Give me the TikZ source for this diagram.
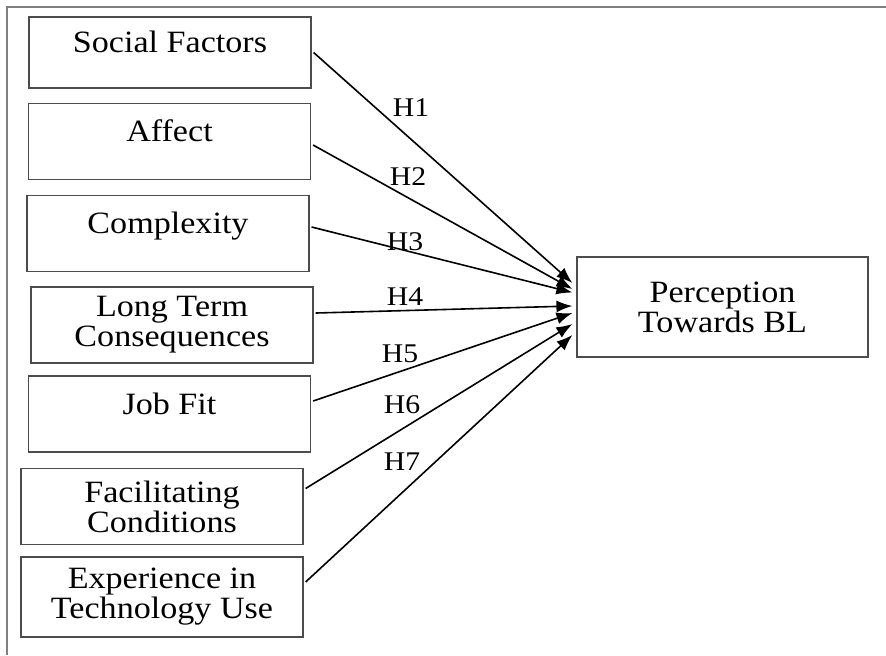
\documentclass[tikz,border=0pt]{standalone}
\usepackage{fontspec}
\setmainfont{Liberation Serif}[FakeStretch=1.1]
\usetikzlibrary{arrows.meta}

\begin{document}
\begin{tikzpicture}[x=0.5pt,y=-0.5pt,
        factor/.style={draw=black!70,line width=0.6pt,minimum width=141pt,minimum height=38pt,
            inner sep=0pt,align=center,font=\fontsize{15.5}{15}\selectfont},
        oneline/.style={text height=10pt,text depth=10pt},
        hyp/.style={-{Latex[length=8pt,width=6pt]},line width=0.8pt},
        hlabel/.style={font=\fontsize{13.5}{14}\selectfont}]
        \useasboundingbox (0,0) rectangle (886,655);
        \draw[black!50,line width=1pt] (886,7) -- (7,7) -- (7,655);

        % independent factors
        \node[factor,oneline,minimum height=35.5pt] (sf) at (170,52.5) {Social Factors};
        \node[factor,oneline] (aff) at (169.5,141.5) {Affect};
        \node[factor,oneline] (cpx) at (168,233.5) {Complexity};
        \node[factor] (ltc) at (172,325) {Long Term\\Consequences};
        \node[factor,oneline] (jf) at (169.5,414) {Job Fit};
        \node[factor] (fc) at (162,506.5) {Facilitating\\Conditions};
        \node[factor,minimum height=40pt] (etu) at (162,597) {Experience in\\Technology Use};

        % dependent
        \node[factor,minimum width=145.5pt,minimum height=50pt] (ptb) at (722.5,307) {Perception\\Towards BL};

        \foreach \src/\dy/\ey in {sf/0/12, aff/-1.75/9, cpx/3.25/7.25, ltc/6/0.5, jf/6.5/-3, fc/9/-8.5, etu/7.5/-14} {
             \draw[hyp] ([xshift=1pt,yshift=\dy pt]\src.east) -- ([xshift=-2pt,yshift=\ey pt]ptb.west);
        }

        \node[hlabel] (h1) at (411,108) {H1};
        \node[hlabel] (h2) at (408,177) {H2};
        \node[hlabel] (h3) at (405,242) {H3};
        \node[hlabel] (h4) at (405,297) {H4};
        \node[hlabel] (h5) at (400,354) {H5};
        \node[hlabel] (h6) at (402,405) {H6};
        \node[hlabel] (h7) at (402,462) {H7};
    \end{tikzpicture}
\end{document}
